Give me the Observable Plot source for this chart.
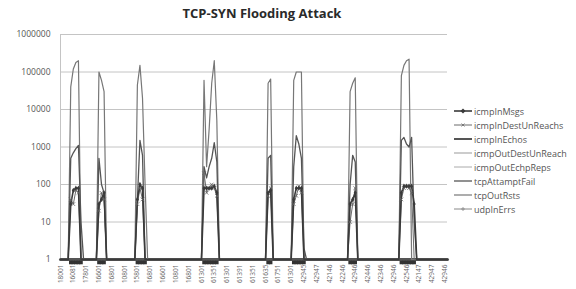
<!DOCTYPE html>
<html>
<head>
<meta charset="utf-8">
<script src="https://cdn.jsdelivr.net/npm/d3@7"></script>
<script src="https://cdn.jsdelivr.net/npm/@observablehq/plot@0.6"></script>
<style>
  html, body { margin: 0; padding: 0; background: #fff; }
  #wrap { position: relative; width: 576px; height: 289px; overflow: hidden; font-family: "Open Sans", "DejaVu Sans", sans-serif; }
  #title { position: absolute; left: 0; top: 4px; width: 524px; text-align: center; font-weight: bold; font-size: 13px; color: #2a2a2a; }
  #legend { position: absolute; left: 454px; top: 104px; font-size: 9px; color: #555; }
  #legend .row { height: 14px; display: flex; align-items: center; white-space: nowrap; }
  #legend svg { margin-right: 2px; }
  #chart { position: absolute; left: 0; top: 0; }
</style>
</head>
<body>
<div id="wrap">
  <div id="chart"></div>
  <div id="title">TCP-SYN Flooding Attack</div>
  <div id="legend"></div>
</div>
<script>
// ---- data ----
const seriesNames = ["icmpInMsgs","icmpInDestUnReachs","icmpInEchos","icmpOutDestUnReach","icmpOutEchpReps","tcpAttamptFail","tcpOutRsts","udpInErrs"];
const xLabels = ["18001","16081","17801","16601","16801","10801","15801","16801","16601","10801","16801",
                 "61301","61351","61301","61391","61351","61635","61751","61301","42945","42947",
                 "42146","42246","42946","42446","42346","42946","42546","42147","42947","42946"];
const pointCount = 152;       // samples along the category axis
const labelEvery = 5;         // one label per 5 samples
const baselineValue = 1;      // value of all series outside the attack bursts
const yTicks = [1, 10, 100, 1000, 10000, 100000, 1000000];

// start sample of each burst
const spikeStart = [3, 14, 29, 55, 80, 90, 112, 132];
// values of each active series during each burst
const tcpOutRsts = [
  [1, 40000, 120000, 180000, 200000, 1, 1],
  [1, 100000, 60000, 30000, 1],
  [1, 45000, 150000, 20000, 100, 1],
  [1, 60000, 300, 3000, 50000, 200000, 5000, 1],
  [1, 50000, 65000, 1],
  [1, 60000, 100000, 100000, 100000, 1, 1],
  [1, 30000, 50000, 70000, 1],
  [1, 80000, 150000, 200000, 220000, 1, 1, 1]
];
const tcpAttamptFail = [
  [1, 500, 700, 900, 1100, 10, 1],
  [1, 500, 100, 60, 1],
  [1, 40, 1500, 600, 1, 1],
  [1, 300, 150, 300, 500, 1300, 400, 1],
  [1, 500, 600, 1],
  [1, 300, 2000, 1200, 500, 2, 1],
  [1, 100, 600, 400, 1],
  [1, 1500, 1800, 1200, 1000, 1800, 10, 1]
];
const icmpInMsgs = [
  [1, 30, 70, 80, 80, 1, 1],
  [1, 30, 40, 60, 1],
  [1, 40, 100, 80, 1, 1],
  [1, 80, 80, 80, 80, 90, 60, 1],
  [1, 60, 70, 1],
  [1, 40, 80, 80, 80, 1, 1],
  [1, 30, 40, 60, 1],
  [1, 60, 90, 90, 90, 90, 30, 1]
];
const icmpInDestUnReachs = [
  [1, 40, 30, 70, 60, 1, 1],
  [1, 20, 60, 40, 1],
  [1, 30, 80, 40, 1, 1],
  [1, 200, 60, 80, 100, 80, 50, 1],
  [1, 50, 80, 1],
  [1, 30, 50, 90, 60, 1, 1],
  [1, 10, 30, 80, 1],
  [1, 40, 80, 90, 80, 60, 1, 1]
];

// ---- build table ----
const bursts = {tcpOutRsts, tcpAttamptFail, icmpInMsgs, icmpInDestUnReachs};
function seriesRows(name) {
  const vals = new Array(pointCount).fill(baselineValue);
  const b = bursts[name];
  if (b) b.forEach((arr, k) => arr.forEach((v, j) => { vals[spikeStart[k] + j] = v; }));
  return vals.map((v, i) => ({i, v, s: name}));
}
const burstIdx = [];
spikeStart.forEach((s, k) => { for (let j = 1; j < tcpOutRsts[k].length - 1; j++) burstIdx.push(s + j); });

const styles = {
  icmpInMsgs:         {stroke: "#3a3a3a", w: 1.6},
  icmpInDestUnReachs: {stroke: "#6a6a6a", w: 1.0},
  icmpInEchos:        {stroke: "#555",    w: 3.0},
  icmpOutDestUnReach: {stroke: "#999",    w: 1.0},
  icmpOutEchpReps:    {stroke: "#aaa",    w: 1.0},
  tcpAttamptFail:     {stroke: "#555",    w: 1.3},
  tcpOutRsts:         {stroke: "#777",    w: 1.2},
  udpInErrs:          {stroke: "#888",    w: 1.0}
};
const drawOrder = ["icmpOutEchpReps","icmpOutDestUnReach","udpInErrs","icmpInEchos","tcpOutRsts","tcpAttamptFail","icmpInDestUnReachs","icmpInMsgs"];

const marks = [
  Plot.ruleY(yTicks, {stroke: "#c4c4c4", strokeWidth: 1}),
  Plot.ruleX([0], {y1: 1, y2: 1e6, stroke: "#c4c4c4"}),
  Plot.axisY({ticks: yTicks, tickSize: 0, tickPadding: 10, fontSize: 8.5, tickFormat: d3.format("d"), fill: "#555", label: null}),
  Plot.axisX({ticks: d3.range(0, pointCount, labelEvery), tickRotate: -90, tickSize: 0, tickPadding: 5, fontSize: 6.5, fill: "#666",
              tickFormat: i => xLabels[i / labelEvery], label: null}),
];
for (const name of drawOrder) {
  const st = styles[name];
  marks.push(Plot.line(seriesRows(name), {x: "i", y: "v", stroke: st.stroke, strokeWidth: st.w, curve: "linear"}));
}
// markers
marks.push(Plot.dot(seriesRows("icmpInDestUnReachs").filter(d => d.v > 1), {x: "i", y: "v", symbol: "times", r: 1.8, stroke: "#666", strokeWidth: 0.8}));
marks.push(Plot.dot(seriesRows("icmpInMsgs").filter(d => d.v > 1), {x: "i", y: "v", symbol: "diamond", r: 1.6, fill: "#3a3a3a", stroke: "none"}));
marks.push(Plot.dot(burstIdx.map(i => ({i, v: baselineValue})), {x: "i", y: "v", symbol: "square", r: 2, fill: "#333", dy: 3}));

const chart = Plot.plot({
  width: 576, height: 289,
  marginLeft: 60, marginRight: 129, marginTop: 34, marginBottom: 30,
  x: {domain: [0, pointCount - 1], label: null},
  y: {type: "log", domain: [1, 1e6], label: null},
  style: {fontFamily: "'Open Sans', 'DejaVu Sans', sans-serif", background: "transparent"},
  marks
});
document.getElementById("chart").appendChild(chart);

// ---- legend ----
const legendMarker = {icmpInMsgs: "diamond", icmpInDestUnReachs: "times", udpInErrs: "plus"};
const lg = document.getElementById("legend");
for (const name of seriesNames) {
  const st = styles[name];
  const row = document.createElement("div");
  row.className = "row";
  let m = "";
  if (legendMarker[name] === "diamond") m = `<path d="M9,2.5 L11.5,5 L9,7.5 L6.5,5Z" fill="${st.stroke}"/>`;
  if (legendMarker[name] === "times") m = `<path d="M7.5,3.5 L10.5,6.5 M10.5,3.5 L7.5,6.5" stroke="${st.stroke}" stroke-width="0.8"/>`;
  if (legendMarker[name] === "plus") m = `<path d="M9,3 L9,7 M7,5 L11,5" stroke="${st.stroke}" stroke-width="0.8"/>`;
  row.innerHTML = `<svg width="18" height="10"><line x1="0" y1="5" x2="18" y2="5" stroke="${st.stroke}" stroke-width="${Math.min(st.w, 2)}"/>${m}</svg><span>${name}</span>`;
  lg.appendChild(row);
}
</script>
</body>
</html>
